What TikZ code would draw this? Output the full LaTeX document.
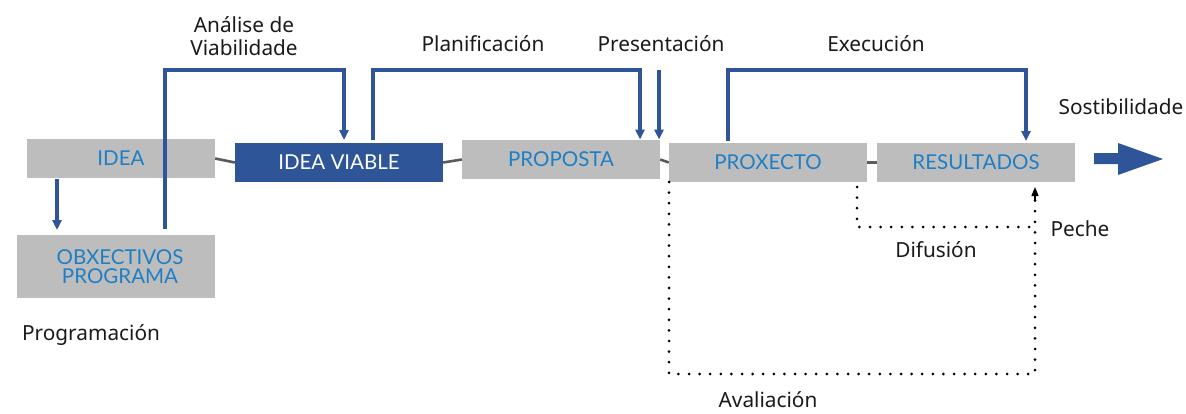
\documentclass[tikz,border=0pt]{standalone}
\usepackage{fontspec}
\setmainfont{Noto Sans}
\newfontfamily\boxfont{Lato}
\usetikzlibrary{arrows.meta,calc}
\definecolor{boxgray}{HTML}{BDBDBD}
\definecolor{boxtext}{HTML}{1E7FC6}
\definecolor{dblue}{HTML}{2E5597}
\definecolor{lgray}{HTML}{5A5A5A}
\definecolor{txt}{HTML}{1A1A1A}
\tikzset{
  stage/.style={fill=boxgray, draw=none, inner sep=0pt, text=boxtext,
    font=\boxfont\fontsize{20.5}{22}\selectfont, align=center},
  stagedark/.style={stage, fill=dblue, text=white},
  lbl/.style={text=txt, font=\fontsize{20.8}{22.5}\selectfont, inner sep=0pt, align=center},
  link/.style={draw=lgray, line width=2.6pt},
  flow/.style={draw=dblue, line width=3.2pt, -{Triangle[length=10pt,width=9pt]}},
  dotline/.style={draw=black, line width=3pt, line cap=round, dash pattern=on 0pt off 10.6pt},
}
\begin{document}
\begin{tikzpicture}[x=1pt,y=-1pt]
\useasboundingbox (0,0) rectangle (1186,413);
% stages
\node[stage, minimum width=188pt, minimum height=39pt] (idea) at (121,158.5) {IDEA};
\node[stagedark, minimum width=208pt, minimum height=39pt] (viable) at (339,162.5) {IDEA VIABLE};
\node[stage, minimum width=198pt, minimum height=63pt] (obj) at (116,266.5) {\hspace*{8pt}OBXECTIVOS\\[-3pt]\hspace*{8pt}PROGRAMA};
\node[stage, minimum width=198pt, minimum height=39pt] (prop) at (561,159.5) {PROPOSTA};
\node[stage, minimum width=198pt, minimum height=39pt] (prox) at (768,162.5) {PROXECTO};
\node[stage, minimum width=198pt, minimum height=39pt] (res) at (976,162.5) {RESULTADOS};
% labels
\node[lbl] (lanal) at (244,36) {Análise de\\Viabilidade};
\node[lbl] (lplan) at (483,44) {Planificación};
\node[lbl] (lpres) at (661,44) {Presentación};
\node[lbl] (lexec) at (876,44) {Execución};
\node[lbl] (lsost) at (1121,107) {Sostibilidade};
\node[lbl] (lpech) at (1080,229) {Peche};
\node[lbl] (ldifu) at (936,250) {Difusión};
\node[lbl] (laval) at (768,399.5) {Avaliación};
\node[lbl] (lprog) at (91,335) {Programación};
% gray links
\draw[link] (idea.east) -- (viable.west);
\draw[link] (viable.east) -- (prop.west);
\draw[link] (prop.east) -- (prox.west);
\draw[link] (prox.east) -- (res.west);
% blue flows
\coordinate (ideaout) at (57,179);
\coordinate (objin) at (57,230);
\draw[flow] (ideaout) -- (objin);
\coordinate (anstart) at (165,229);
\coordinate (antip) at (344,140);
\draw[flow] (anstart) |- (165,70) -| (antip);
\coordinate (plstart) at (373,140);
\coordinate (pltip) at (640,139.5);
\draw[flow] (plstart) |- (373,70) -| (pltip);
\coordinate (prstart) at (659,70);
\coordinate (prtip) at (659,139.5);
\draw[flow] (prstart) -- (prtip);
\coordinate (exstart) at (728,141);
\coordinate (extip) at (1026,141);
\draw[flow] (exstart) |- (728,70) -| (extip);
% big arrow
\fill[dblue] (1094,153) -- (1118,153) -- (1118,143) -- (1163,159) -- (1118,175) -- (1118,164) -- (1094,164) -- cycle;
% dotted lines
\coordinate (avstart) at (669,182);
\coordinate (difstart) at (857,187);
\coordinate (pechtip) at (1035,187);
\draw[dotline] (avstart) -- (669,374) -- (1035,374) -- (1035,195);
\draw[dotline] (difstart) -- (857,227) -- (1035,227);
\draw[black, line width=1.4pt, -{Triangle[length=9pt,width=7pt]}] (1035,200) -- (pechtip);
\end{tikzpicture}
\end{document}
